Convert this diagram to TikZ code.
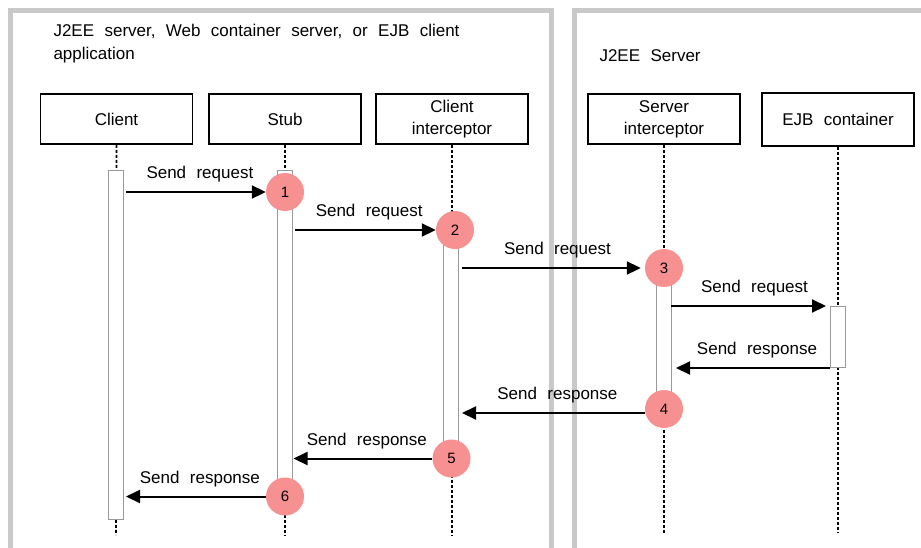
\documentclass[tikz,border=0pt]{standalone}
\usepackage{fontspec}
\setmainfont{Liberation Sans}[WordSpace=2.2]
\usetikzlibrary{arrows.meta}
\definecolor{framegray}{HTML}{C9C9C9}
\definecolor{markpink}{HTML}{F79191}

\begin{document}
\begin{tikzpicture}[x=1pt, y=-1pt, >={Triangle[length=14pt, width=13pt]},
  every node/.style={font=\fontsize{17}{22}\selectfont},
  headbox/.style={draw, line width=1.8pt, minimum width=152pt, minimum height=50pt, align=center, inner sep=0pt},
  actbar/.style={draw=gray!80, fill=white, line width=1pt, minimum width=15pt, inner sep=0pt},
  stepmark/.style={circle, fill=markpink, minimum size=38pt, inner sep=0pt, font=\fontsize{15}{18}\selectfont},
  lifeline/.style={line width=1.8pt, dash pattern=on 3pt off 2pt},
  msg/.style={->, line width=2pt},
  msglabel/.style={midway, anchor=base, yshift=13.5pt, xshift=4pt}]
  \clip (0,0) rectangle (921,547);

  % Panels
  \draw[framegray, line width=5pt, fill=white] (10.5,560) -- (10.5,10.5) -- (551.5,10.5) -- (551.5,560);
  \draw[framegray, line width=5pt, fill=white] (574,560) -- (574,10.5) -- (940,10.5);
  \node[anchor=base west, align=left, font=\fontsize{17}{22.6}\selectfont] (lefttitle) at (50,59.3) {J2EE server, Web container server, or EJB client\\application};
  \node[anchor=base west] (righttitle) at (596,61.7) {J2EE Server};

  % Lifeline heads
  \node[headbox] (client) at (116.5,119) {Client};
  \node[headbox] (stub) at (285,119) {Stub};
  \node[headbox] (cint) at (452,119) {Client\\interceptor};
  \node[headbox] (sint) at (664,119) {Server\\interceptor};
  \node[headbox, minimum height=53pt] (ejb) at (838,119.5) {EJB container};

  % Lifelines
  \coordinate (client-end) at (116,535);
  \coordinate (stub-end) at (285,535);
  \coordinate (cint-end) at (452,535);
  \coordinate (sint-end) at (664,534);
  \coordinate (ejb-end) at (838,532);
  \foreach \n in {client, stub, cint, sint, ejb}
    \draw[lifeline] (\n.south) -- (\n-end);

  % Activation bars
  \node[actbar, minimum height=349pt] (client-bar) at (116,344.5) {};
  \node[actbar, minimum height=326pt] (stub-bar) at (284.5,333) {};
  \node[actbar, minimum height=228pt] (cint-bar) at (451,344) {};
  \node[actbar, minimum height=141pt] (sint-bar) at (664,338.5) {};
  \node[actbar, minimum height=61pt] (ejb-bar) at (838,337) {};

  % Step marks
  \node[stepmark] (s1) at (285,192) {1};
  \node[stepmark] (s2) at (455,230) {2};
  \node[stepmark] (s3) at (664,268) {3};
  \node[stepmark] (s4) at (664,409) {4};
  \node[stepmark] (s5) at (451.5,458.5) {5};
  \node[stepmark] (s6) at (285,496.5) {6};
  \coordinate (s4-out) at ([yshift=-4pt]s4.west);

  % Requests
  \draw[msg] ([xshift=2pt]client-bar.east |- s1) -- (s1.west) node[msglabel] {Send request};
  \draw[msg] ([xshift=2pt]stub-bar.east |- s2) -- (s2.west) node[msglabel] {Send request};
  \draw[msg, shorten >=4pt] ([xshift=3pt]cint-bar.east |- s3) -- (s3.west) node[msglabel] {Send request};
  \draw[msg, shorten >=4pt] ([xshift=-1pt]sint-bar.east |- ejb-bar.north) -- (ejb-bar.north west) node[msglabel] {Send request};

  % Responses
  \draw[msg] (ejb-bar.south west) -- ([xshift=4pt]sint-bar.east |- ejb-bar.south) node[msglabel] {Send response};
  \draw[msg] (s4-out) -- ([xshift=3pt]cint-bar.east |- s4-out) node[msglabel] {Send response};
  \draw[msg] (s5.west) -- ([xshift=1pt]stub-bar.east |- s5) node[msglabel] {Send response};
  \draw[msg] (s6.west) -- ([xshift=2pt]client-bar.east |- s6) node[msglabel] {Send response};
\end{tikzpicture}
\end{document}
